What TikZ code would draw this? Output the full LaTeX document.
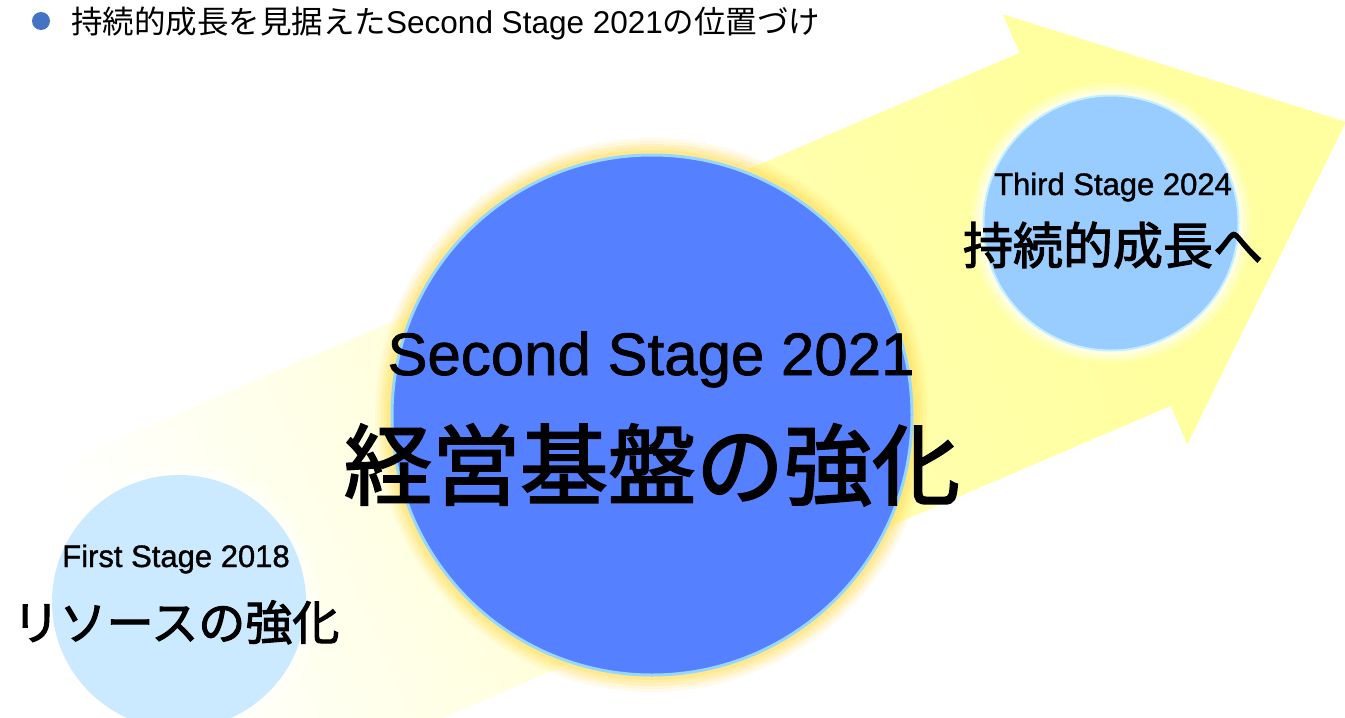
\documentclass[tikz,border=0pt]{standalone}
\usepackage{fontspec}
\newfontfamily\jp{Noto Sans CJK JP}
\newfontfamily\jpm[FakeBold=2.2]{Noto Sans CJK JP}
\newfontfamily\lat{Liberation Sans}
\newfontfamily\latm[FakeBold=1.2]{Liberation Sans}
\definecolor{ylw}{RGB}{255,255,160}
\definecolor{ylwA}{RGB}{255,255,222}
\definecolor{ylwB}{RGB}{255,255,174}
\definecolor{bigblue}{RGB}{85,128,255}
\definecolor{ringc}{RGB}{150,215,255}
\definecolor{glowy}{RGB}{255,225,100}
\definecolor{thirdfill}{RGB}{153,204,255}
\definecolor{thirdring}{RGB}{195,240,255}
\definecolor{firstfill}{RGB}{204,234,255}
\definecolor{bulletblue}{RGB}{68,114,196}
\pgfdeclarehorizontalshading{arrowsh}{100bp}{color(0bp)=(white); color(33bp)=(white); color(44bp)=(ylwA); color(57bp)=(ylwB); color(66bp)=(ylw); color(100bp)=(ylw)}
\tikzset{
  stage/.style={circle, inner sep=0pt},
  latlabel/.style={text=black, inner sep=0pt, anchor=base},
  jplabel/.style={text=black, inner sep=0pt, anchor=base},
}
\begin{document}
\begin{tikzpicture}[x=1pt,y=-1pt]
\useasboundingbox (0,0) rectangle (1345,718);
\fill[white] (0,0) rectangle (1345,718);
% big arrow
\begin{scope}[transform canvas={rotate around={23.2:(1096,229)}}]
\shade[shading=arrowsh] (-204,37) -- (1095,37) -- (1095,-5) -- (1368,229) -- (1095,463) -- (1095,421) -- (-204,421) -- cycle;
\end{scope}
% first stage circle
\coordinate (c1) at (179,602);
\foreach \w/\o in {30/0.15,22/0.2,14/0.25,6/0.3}
  \draw[white, line width=\w pt, opacity=\o] (c1) circle[radius=127pt];
\node[stage, fill=firstfill, minimum size=254pt] (first) at (c1) {};
% second stage circle
\coordinate (c2) at (652,415);
\foreach \w/\o in {32/0.12,26/0.15,20/0.2,14/0.25,8/0.35}
  \draw[glowy, line width=\w pt, opacity=\o] (c2) circle[radius=261pt];
\node[stage, fill=bigblue, draw=ringc, line width=3pt, minimum size=520pt] (second) at (c2) {};
% third stage circle
\coordinate (c3) at (1111,223);
\foreach \w/\o in {24/0.2,16/0.3,8/0.45}
  \draw[white, line width=\w pt, opacity=\o] (c3) circle[radius=128pt];
\node[stage, fill=thirdfill, draw=thirdring, line width=2pt, minimum size=255pt] (third) at (c3) {};
% labels
\node[latlabel, font=\latm\fontsize{60}{60}\selectfont] (t2a) at (651,375) {Second Stage 2021};
\node[jplabel, font=\jpm\fontsize{88}{88}\selectfont] (t2b) at (652,498) {経営基盤の強化};
\node[latlabel, font=\latm\fontsize{31}{31}\selectfont] (t3a) at (1113,195) {Third Stage 2024};
\node[jplabel, font=\jpm\fontsize{50}{50}\selectfont] (t3b) at (1113,264) {持続的成長へ};
\node[latlabel, font=\latm\fontsize{31}{31}\selectfont] (t1a) at (176,567) {First Stage 2018};
\node[jplabel, font=\jpm\fontsize{47}{47}\selectfont] (t1b) at (176,640) {リソースの強化};
% header
\node[circle, fill=bulletblue, minimum size=18pt, inner sep=0pt] (bullet) at (41,21) {};
\node[anchor=base west, inner sep=0pt, font=\jp\fontsize{31.5}{31.5}\selectfont] (header) at (71,33) {持続的成長を見据えた{\lat Second Stage 2021}の位置づけ};
\end{tikzpicture}
\end{document}
